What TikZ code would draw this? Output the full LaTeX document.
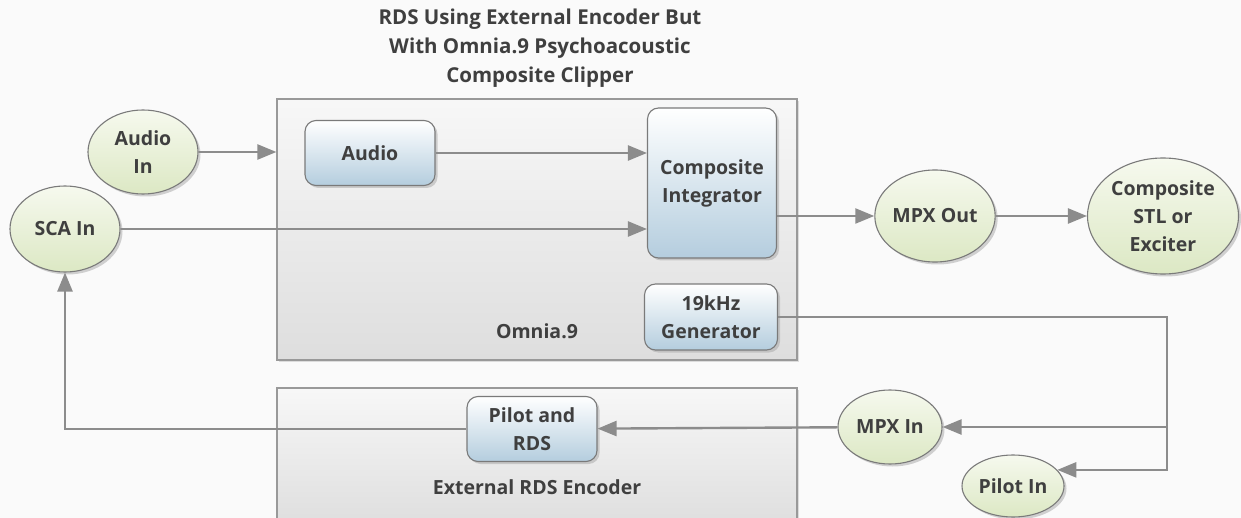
\documentclass[tikz,border=0pt]{standalone}
\usepackage{fontspec}
\setmainfont{Open Sans}
\usetikzlibrary{shapes.geometric,arrows.meta,shadows}
\definecolor{txt}{HTML}{3F3F3F}
\definecolor{wire}{HTML}{8C8C8C}
\definecolor{rim}{HTML}{7A7A7A}

\begin{document}
\begin{tikzpicture}[
  x=1pt, y=-1pt,
  font=\bfseries\fontsize{19.5}{28}\selectfont, text=txt,
  % grey housings for the two units, soft shadow under each
  grp/.style={draw=black!40, line width=1.2pt, top color=black!3, bottom color=black!13,
              drop shadow={shadow xshift=2pt, shadow yshift=-2pt, fill=black!25}},
  blk/.style={rounded corners=11pt, draw=rim, line width=1.1pt, align=center,
              top color=white, bottom color={rgb,255:red,180;green,205;blue,222},
              drop shadow={shadow xshift=2.5pt, shadow yshift=-2.5pt, fill=black!35}},
  io/.style={ellipse, draw=rim, line width=1.1pt, align=center, inner sep=0pt,
             top color={rgb,255:red,246;green,249;blue,238}, bottom color={rgb,255:red,220;green,232;blue,196},
             drop shadow={shadow xshift=2.5pt, shadow yshift=-2.5pt, fill=black!35}},
  arr/.style={-{Triangle[length=19pt,width=15pt]}, draw=wire, line width=2.4pt},
  lbl/.style={align=center}
]
\fill[black!2] (0,0) rectangle (1241,518);
\useasboundingbox (0,0) rectangle (1241,518);

\node[lbl, font=\bfseries\fontsize{20.5}{29}\selectfont] (title) at (540,48) {RDS Using External Encoder But\\ With Omnia.9 Psychoacoustic\\ Composite Clipper};

\node[grp, minimum width=520pt, minimum height=261pt] (omnia) at (537,229.5) {};
\node[grp, minimum width=520pt, minimum height=140pt] (rdsenc) at (537,458) {};
\node[lbl] (omnialbl) at (537,331) {Omnia.9};
\node[lbl] (rdslbl) at (537,487) {External RDS Encoder};

\node[io, minimum width=110pt, minimum height=84pt] (audioin) at (143,152) {Audio\\In};
\node[io, minimum width=110pt, minimum height=86pt] (sca) at (65,229) {SCA In};
\node[blk, minimum width=130pt, minimum height=65pt] (audio) at (370,153) {Audio};
\node[blk, minimum width=129pt, minimum height=150pt] (integ) at (712,183) {Composite\\Integrator};
\node[blk, minimum width=133pt, minimum height=66pt] (gen) at (711,317) {19kHz\\Generator};
\node[blk, minimum width=130pt, minimum height=65pt] (pilot) at (532,429) {Pilot and\\RDS};
\node[io, minimum width=116pt, minimum height=92pt] (mpxout) at (935,216) {MPX Out};
\node[io, minimum width=151pt, minimum height=116pt] (stl) at (1163,216) {Composite\\STL or\\Exciter};
\node[io, minimum width=104pt, minimum height=74pt] (mpxin) at (890,427) {MPX In};
\node[io, minimum width=102pt, minimum height=62pt] (pilotin) at (1013,486) {Pilot In};
\coordinate (tap) at (1167,427);

\draw[arr] (audioin) -- (audioin -| omnia.west);
\draw[arr] (audio) -- (audio -| integ.west);
\draw[arr] (sca) -- (sca -| integ.west);
\draw[arr] (integ.east |- mpxout) -- (mpxout);
\foreach \a/\b in {mpxout/stl, tap/mpxin, mpxin/pilot}
  \draw[arr] (\a) -- (\b);
\draw[arr] (gen.east) -| (tap) |- (pilotin.20);
\draw[arr] (pilot.west) -| (sca.south);
\end{tikzpicture}
\end{document}
